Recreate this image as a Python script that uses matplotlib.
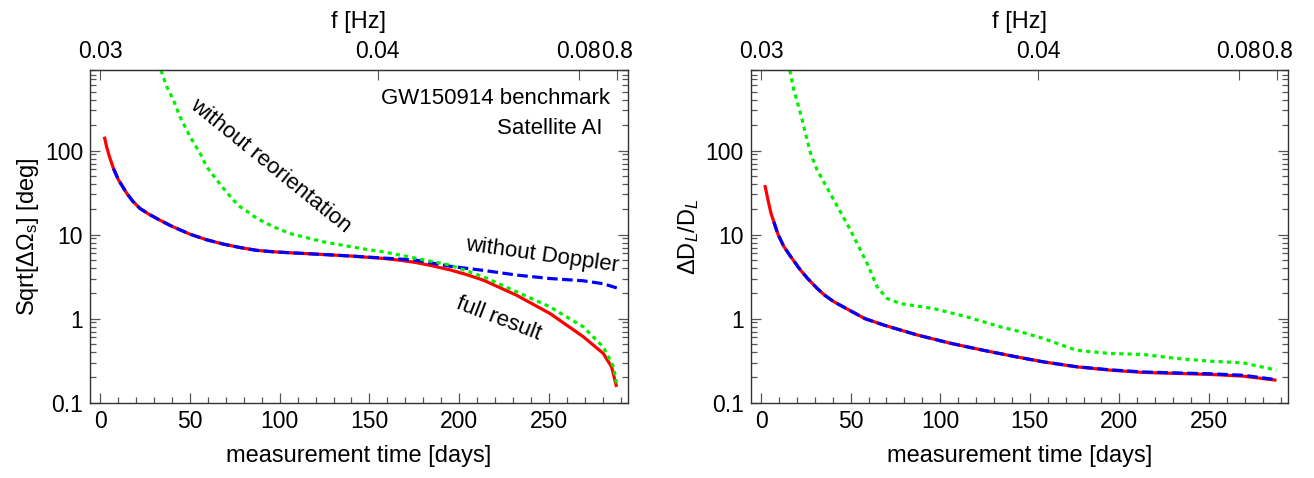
import matplotlib
matplotlib.use("Agg")
import matplotlib.pyplot as plt
from matplotlib.ticker import FixedLocator, LogLocator, FuncFormatter, NullFormatter

plt.rcParams['font.family'] = ['Liberation Sans', 'DejaVu Sans']
plt.rcParams['mathtext.fontset'] = 'custom'
plt.rcParams['mathtext.rm'] = 'Liberation Sans'
plt.rcParams['mathtext.it'] = 'Liberation Sans:italic'

# ---- data (days, value) ----
# left panel: sky localisation
sky_full_t = [2.2, 3.5, 5, 7.3, 10, 14.7, 18, 22, 27, 33, 40, 50, 59, 68.6, 78, 87, 96, 106, 124,
              140, 158, 167, 176, 185, 195, 204, 213.5, 232, 250.7, 269.2, 280.4, 285, 287.8]
sky_full_v = [146, 110, 85, 61, 45, 31, 25, 20.5, 17.5, 14.9, 12.5, 10.1, 8.7, 7.7, 7.0, 6.5,
              6.25, 6.07, 5.8, 5.55, 5.2, 4.95, 4.65, 4.25, 3.8, 3.35, 2.87, 1.9, 1.15, 0.61,
              0.385, 0.267, 0.154]

sky_nodop_t = [7.3, 10, 14.7, 18, 22, 27, 33, 40, 50, 59, 68.6, 78, 87, 96, 106, 124, 140, 158,
               176, 195, 213.5, 232, 250.7, 269.2, 280.4, 288.7]
sky_nodop_v = [61, 45, 31, 25, 20.5, 17.5, 14.9, 12.5, 10.1, 8.7, 7.7, 7.0, 6.5, 6.25, 6.07, 5.8,
               5.55, 5.25, 4.97, 4.2, 3.75, 3.3, 3.0, 2.82, 2.6, 2.29]

sky_noreo_t = [33.8, 37, 40.7, 44.4, 50, 55.6, 59.3, 64.9, 68.6, 74.1, 77.9, 83.4, 87.2,
               96.4, 105.7, 124.3, 139.2, 148.5, 157.7, 176.4, 194.9, 213.5, 232,
               250.7, 269.2, 280.4, 286, 287.8]
sky_noreo_v = [900, 575, 400, 252, 146, 92.6, 64, 44.6, 35.5, 25.8, 21.4, 17.9, 15.6,
               12.4, 10.3, 8.2, 7.2, 6.66, 6.24, 5.2, 4.34, 3.15, 2.09,
               1.38, 0.8, 0.46, 0.27, 0.17]

# right panel: distance error
dl_full_t = [2.1, 4, 5.5, 7.1, 9.5, 12.7, 17, 22, 26, 31.3, 35.5, 40.6, 49.9, 58, 68.4, 87.1,
             105.6, 124.2, 142.8, 157.6, 176.2, 194.8, 213.4, 232, 250.6, 269.1, 287.7]
dl_full_v = [38.8, 25, 18, 14.2, 10, 7.2, 5.3, 3.78, 3.0, 2.29, 1.9, 1.59, 1.24, 1.0, 0.84, 0.64,
             0.51, 0.42, 0.35, 0.306, 0.267, 0.244, 0.229, 0.223, 0.217, 0.207, 0.185]

dl_nodop_t = [7.1, 9.5, 12.7, 17, 22, 26, 31.3, 35.5, 40.6, 49.9, 58, 68.4, 87.1, 105.6, 124.2,
              142.8, 157.6, 176.2, 194.8, 213.4, 232, 250.6, 269.1, 287.7]
dl_nodop_v = [14.2, 10, 7.2, 5.3, 3.78, 3.0, 2.29, 1.9, 1.59, 1.24, 1.0, 0.84, 0.64, 0.51, 0.42,
              0.35, 0.306, 0.268, 0.246, 0.232, 0.226, 0.221, 0.212, 0.188]

dl_noreo_t = [16, 18.3, 22, 24.8, 27.6, 31.3, 40.6, 49.9, 59.2, 64.8, 70.3, 77.8, 96.3,
              114.9, 133.5, 144.6, 157.6, 176.2, 194.8, 213.4, 232, 250.6, 269.1, 287.7]
dl_noreo_v = [900, 525, 277, 160, 92.7, 58.6, 25.8, 11.3, 4.54, 2.39, 1.74, 1.51, 1.32,
              1.05, 0.8, 0.70, 0.58, 0.42, 0.385, 0.375, 0.336, 0.312, 0.298, 0.244]

# top frequency axis
f_tick_days = [0, 154.6, 266.7, 287.8]
f_tick_labels = ['0.03', '0.04', '0.08', '0.8']

day_ticks = [0, 50, 100, 150, 200, 250]

W, H = 1314, 478
fig = plt.figure(figsize=(W / 100, H / 100), dpi=100)
ax1 = fig.add_axes([90 / W, 1 - 402.7 / H, 537.7 / W, 332.4 / H])
ax2 = fig.add_axes([750.7 / W, 1 - 402.7 / H, 537.0 / W, 332.4 / H])

red, blue, green = '#ff0000', '#0000ff', '#00f000'
tick_fs, label_fs, note_fs = 16.5, 17, 16


def style_axes(ax, ylabel):
    ax.set_yscale('log')
    ax.set_xlim(-5.8, 294)
    ax.set_ylim(0.1, 900)
    ax.xaxis.set_major_locator(FixedLocator(day_ticks))
    ax.xaxis.set_minor_locator(FixedLocator(range(0, 291, 10)))
    ax.yaxis.set_major_locator(FixedLocator([0.1, 1, 10, 100]))
    ax.yaxis.set_minor_locator(LogLocator(base=10, subs=range(2, 10), numticks=20))
    ax.yaxis.set_major_formatter(FuncFormatter(lambda v, p: f'{v:g}'))
    ax.yaxis.set_minor_formatter(NullFormatter())
    ax.tick_params(which='both', direction='in', top=False, right=True,
                   color='#555555', labelsize=tick_fs, width=0.9)
    ax.tick_params(which='major', length=7, pad=5)
    ax.tick_params(which='minor', length=4)
    for s in ax.spines.values():
        s.set_color('#333333')
        s.set_linewidth(1.0)
    ax.set_xlabel('measurement time [days]', fontsize=label_fs, labelpad=9)
    ax.set_ylabel(ylabel, fontsize=label_fs, labelpad=3)

    top = ax.secondary_xaxis('top')
    top.set_xticks(f_tick_days, labels=f_tick_labels)
    top.tick_params(direction='in', length=7, color='#555555', labelsize=tick_fs, pad=5)
    top.set_xlabel('f [Hz]', fontsize=label_fs, labelpad=9)
    top.spines['top'].set_color('#333333')


lw = 2.3
ax1.plot(sky_full_t, sky_full_v, color=red, lw=lw, solid_capstyle='butt')
ax1.plot(sky_nodop_t, sky_nodop_v, color=blue, lw=lw, dashes=(3.3, 1.4))
ax1.plot(sky_noreo_t, sky_noreo_v, color=green, lw=lw, dashes=(1.3, 1.3))
style_axes(ax1, 'Sqrt[ΔΩ$_\\mathregular{s}$] [deg]')

ax1.text(284.4, 418, 'GW150914 benchmark', fontsize=note_fs, ha='right', va='center')
ax1.text(280, 184, 'Satellite AI', fontsize=note_fs, ha='right', va='center')
ax1.text(95, 65, 'without reorientation', fontsize=note_fs, ha='center', va='center', rotation=-39)
ax1.text(246, 5.7, 'without Doppler', fontsize=note_fs, ha='center', va='center', rotation=-8)
ax1.text(222, 1.0, 'full result', fontsize=note_fs, ha='center', va='center', rotation=-21)

ax2.plot(dl_full_t, dl_full_v, color=red, lw=lw, solid_capstyle='butt')
ax2.plot(dl_nodop_t, dl_nodop_v, color=blue, lw=lw, dashes=(3.3, 1.4))
ax2.plot(dl_noreo_t, dl_noreo_v, color=green, lw=lw, dashes=(1.3, 1.3))
style_axes(ax2, 'ΔD$_{L}$/D$_{L}$')

fig.savefig('out.png', dpi=100)
